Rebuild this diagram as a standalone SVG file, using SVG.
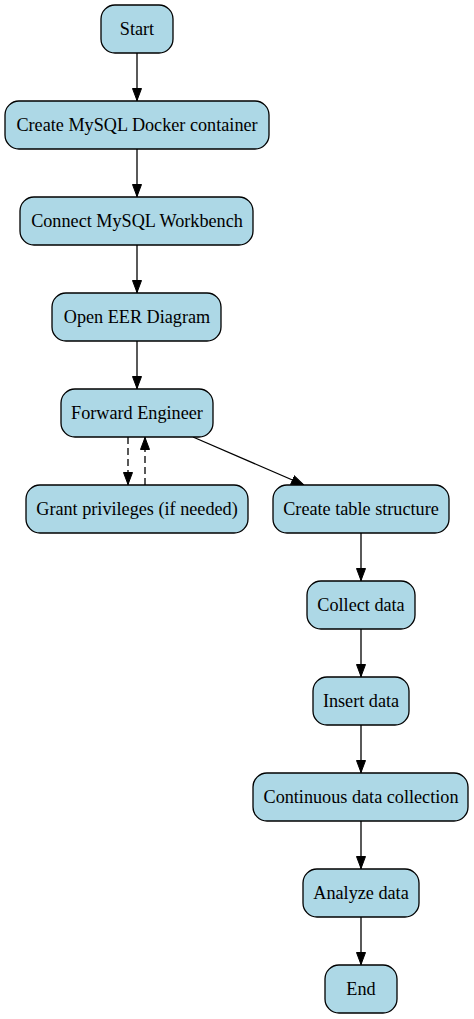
<svg xmlns="http://www.w3.org/2000/svg" width="474" height="1019" viewBox="0 0 474 1019">
<style>
.n rect{fill:#add8e6;stroke:#000;stroke-width:1.3}
.n text{font-family:"Liberation Serif","Times New Roman",serif;font-size:18.2px;fill:#000;text-anchor:middle;dominant-baseline:central}
.e{stroke:#000;stroke-width:1.3;fill:none}
.d{stroke-dasharray:7,4}
</style>
<defs>
<marker id="ah" viewBox="0 0 13 10" refX="13" refY="5" markerWidth="13" markerHeight="10" markerUnits="userSpaceOnUse" orient="auto">
<path d="M0.5,0.5 L12.5,5 L0.5,9.5 Z" fill="#000" stroke="#000" stroke-width="1"/>
</marker>
</defs>
<rect width="474" height="1019" fill="#fff"/>
<g id="edges">
<line class="e" x1="137" y1="53" x2="137" y2="101" marker-end="url(#ah)"/>
<line class="e" x1="137" y1="149" x2="137" y2="197" marker-end="url(#ah)"/>
<line class="e" x1="137" y1="245" x2="137" y2="293" marker-end="url(#ah)"/>
<line class="e" x1="137" y1="341" x2="137" y2="389" marker-end="url(#ah)"/>
<line class="e d" x1="128" y1="437" x2="128" y2="485" marker-end="url(#ah)"/>
<line class="e d" x1="145" y1="485" x2="145" y2="437" marker-end="url(#ah)"/>
<line class="e" x1="193" y1="437" x2="304" y2="485" marker-end="url(#ah)"/>
<line class="e" x1="361" y1="533" x2="361" y2="581" marker-end="url(#ah)"/>
<line class="e" x1="361" y1="629" x2="361" y2="677" marker-end="url(#ah)"/>
<line class="e" x1="361" y1="725" x2="361" y2="773" marker-end="url(#ah)"/>
<line class="e" x1="361" y1="821" x2="361" y2="869" marker-end="url(#ah)"/>
<line class="e" x1="361" y1="917" x2="361" y2="965" marker-end="url(#ah)"/>
</g>
<g id="start" class="n"><rect x="101" y="5" width="72" height="48" rx="14"/><text x="137" y="29">Start</text></g>
<g id="docker" class="n"><rect x="5" y="101" width="264" height="48" rx="14"/><text x="137" y="125">Create MySQL Docker container</text></g>
<g id="workbench" class="n"><rect x="20" y="197" width="233" height="48" rx="14"/><text x="137" y="221">Connect MySQL Workbench</text></g>
<g id="eer" class="n"><rect x="52" y="293" width="169" height="48" rx="14"/><text x="137" y="317">Open EER Diagram</text></g>
<g id="forward" class="n"><rect x="61" y="389" width="152" height="48" rx="14"/><text x="137" y="413">Forward Engineer</text></g>
<g id="grant" class="n"><rect x="26" y="485" width="222" height="48" rx="14"/><text x="137" y="509">Grant privileges (if needed)</text></g>
<g id="table" class="n"><rect x="273" y="485" width="176" height="48" rx="14"/><text x="361" y="509">Create table structure</text></g>
<g id="collect" class="n"><rect x="307" y="581" width="108" height="48" rx="14"/><text x="361" y="605">Collect data</text></g>
<g id="insert" class="n"><rect x="313" y="677" width="96" height="48" rx="14"/><text x="361" y="701">Insert data</text></g>
<g id="continuous" class="n"><rect x="253" y="773" width="215" height="48" rx="14"/><text x="361" y="797">Continuous data collection</text></g>
<g id="analyze" class="n"><rect x="303" y="869" width="116" height="48" rx="14"/><text x="361" y="893">Analyze data</text></g>
<g id="end" class="n"><rect x="325" y="965" width="72" height="48" rx="14"/><text x="361" y="989">End</text></g>
</svg>
